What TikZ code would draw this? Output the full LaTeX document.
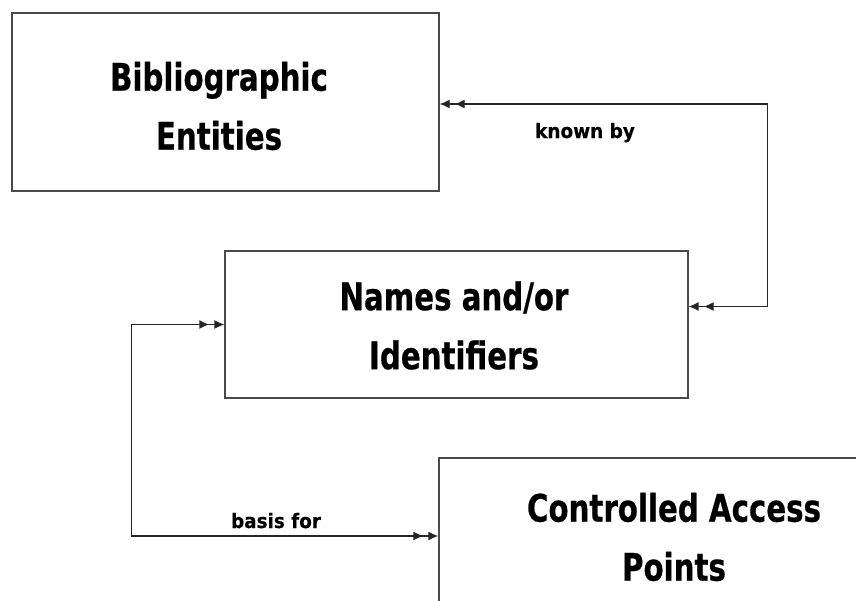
\documentclass[tikz,border=0pt]{standalone}
\usepackage{fontspec}
\newfontfamily\titlefont[FakeStretch=0.77,FakeBold=0.6]{DejaVu Sans}
\newfontfamily\labelfont[FakeStretch=0.92,FakeBold=0.4]{DejaVu Sans}
\usetikzlibrary{arrows.meta,decorations.markings}
\definecolor{boxline}{HTML}{4A4A4A}
\tikzset{
  box/.style={draw=boxline, line width=1.3pt, rectangle, inner sep=0pt},
  title/.style={font={\titlefont\bfseries\fontsize{38}{59}\selectfont}, align=center, inner sep=0pt},
  lbl/.style={font={\labelfont\bfseries\fontsize{20}{24}\selectfont}, inner sep=0pt, anchor=base},
  hd/.tip={Latex[length=10pt,width=9pt]},
  conn/.style={draw=black!85, line width=1.3pt, hd-hd,
    postaction={decorate},
    decoration={markings,
      mark=at position 15pt with {\arrowreversed{hd}},
      mark=at position -15pt with {\arrow{hd}}}}
}
\begin{document}
\begin{tikzpicture}[x=1pt,y=-1pt]
\useasboundingbox (0,0) rectangle (856,600);
\fill[white] (0,0) rectangle (856,600);
\begin{scope}
\clip (0,0) rectangle (856,600);
\node[box, minimum width=427pt, minimum height=178pt] (bib) at (225.5,102) {};
\node[box, minimum width=463pt, minimum height=147pt] (names) at (456.5,324.5) {};
\node[box, minimum width=461pt, minimum height=222pt] (cap) at (669.5,569) {};
\node[title] (bibt) at (219,106) {Bibliographic\\Entities};
\node[title] (namest) at (454,325.5) {Names and/or\\Identifiers};
\node[title] (capt) at (674,537) {Controlled Access\\Points};
\node[lbl] (kb) at (585,138) {known by};
\node[lbl] (bf) at (276,528) {basis for};
\draw[conn] ([yshift=18pt]names.east) -- ++(79,0) |- ([yshift=-2pt]bib.east);
\draw[conn] (names.west) -- ++(-93,0) |- ([yshift=33pt]cap.west);
\end{scope}
\end{tikzpicture}
\end{document}
